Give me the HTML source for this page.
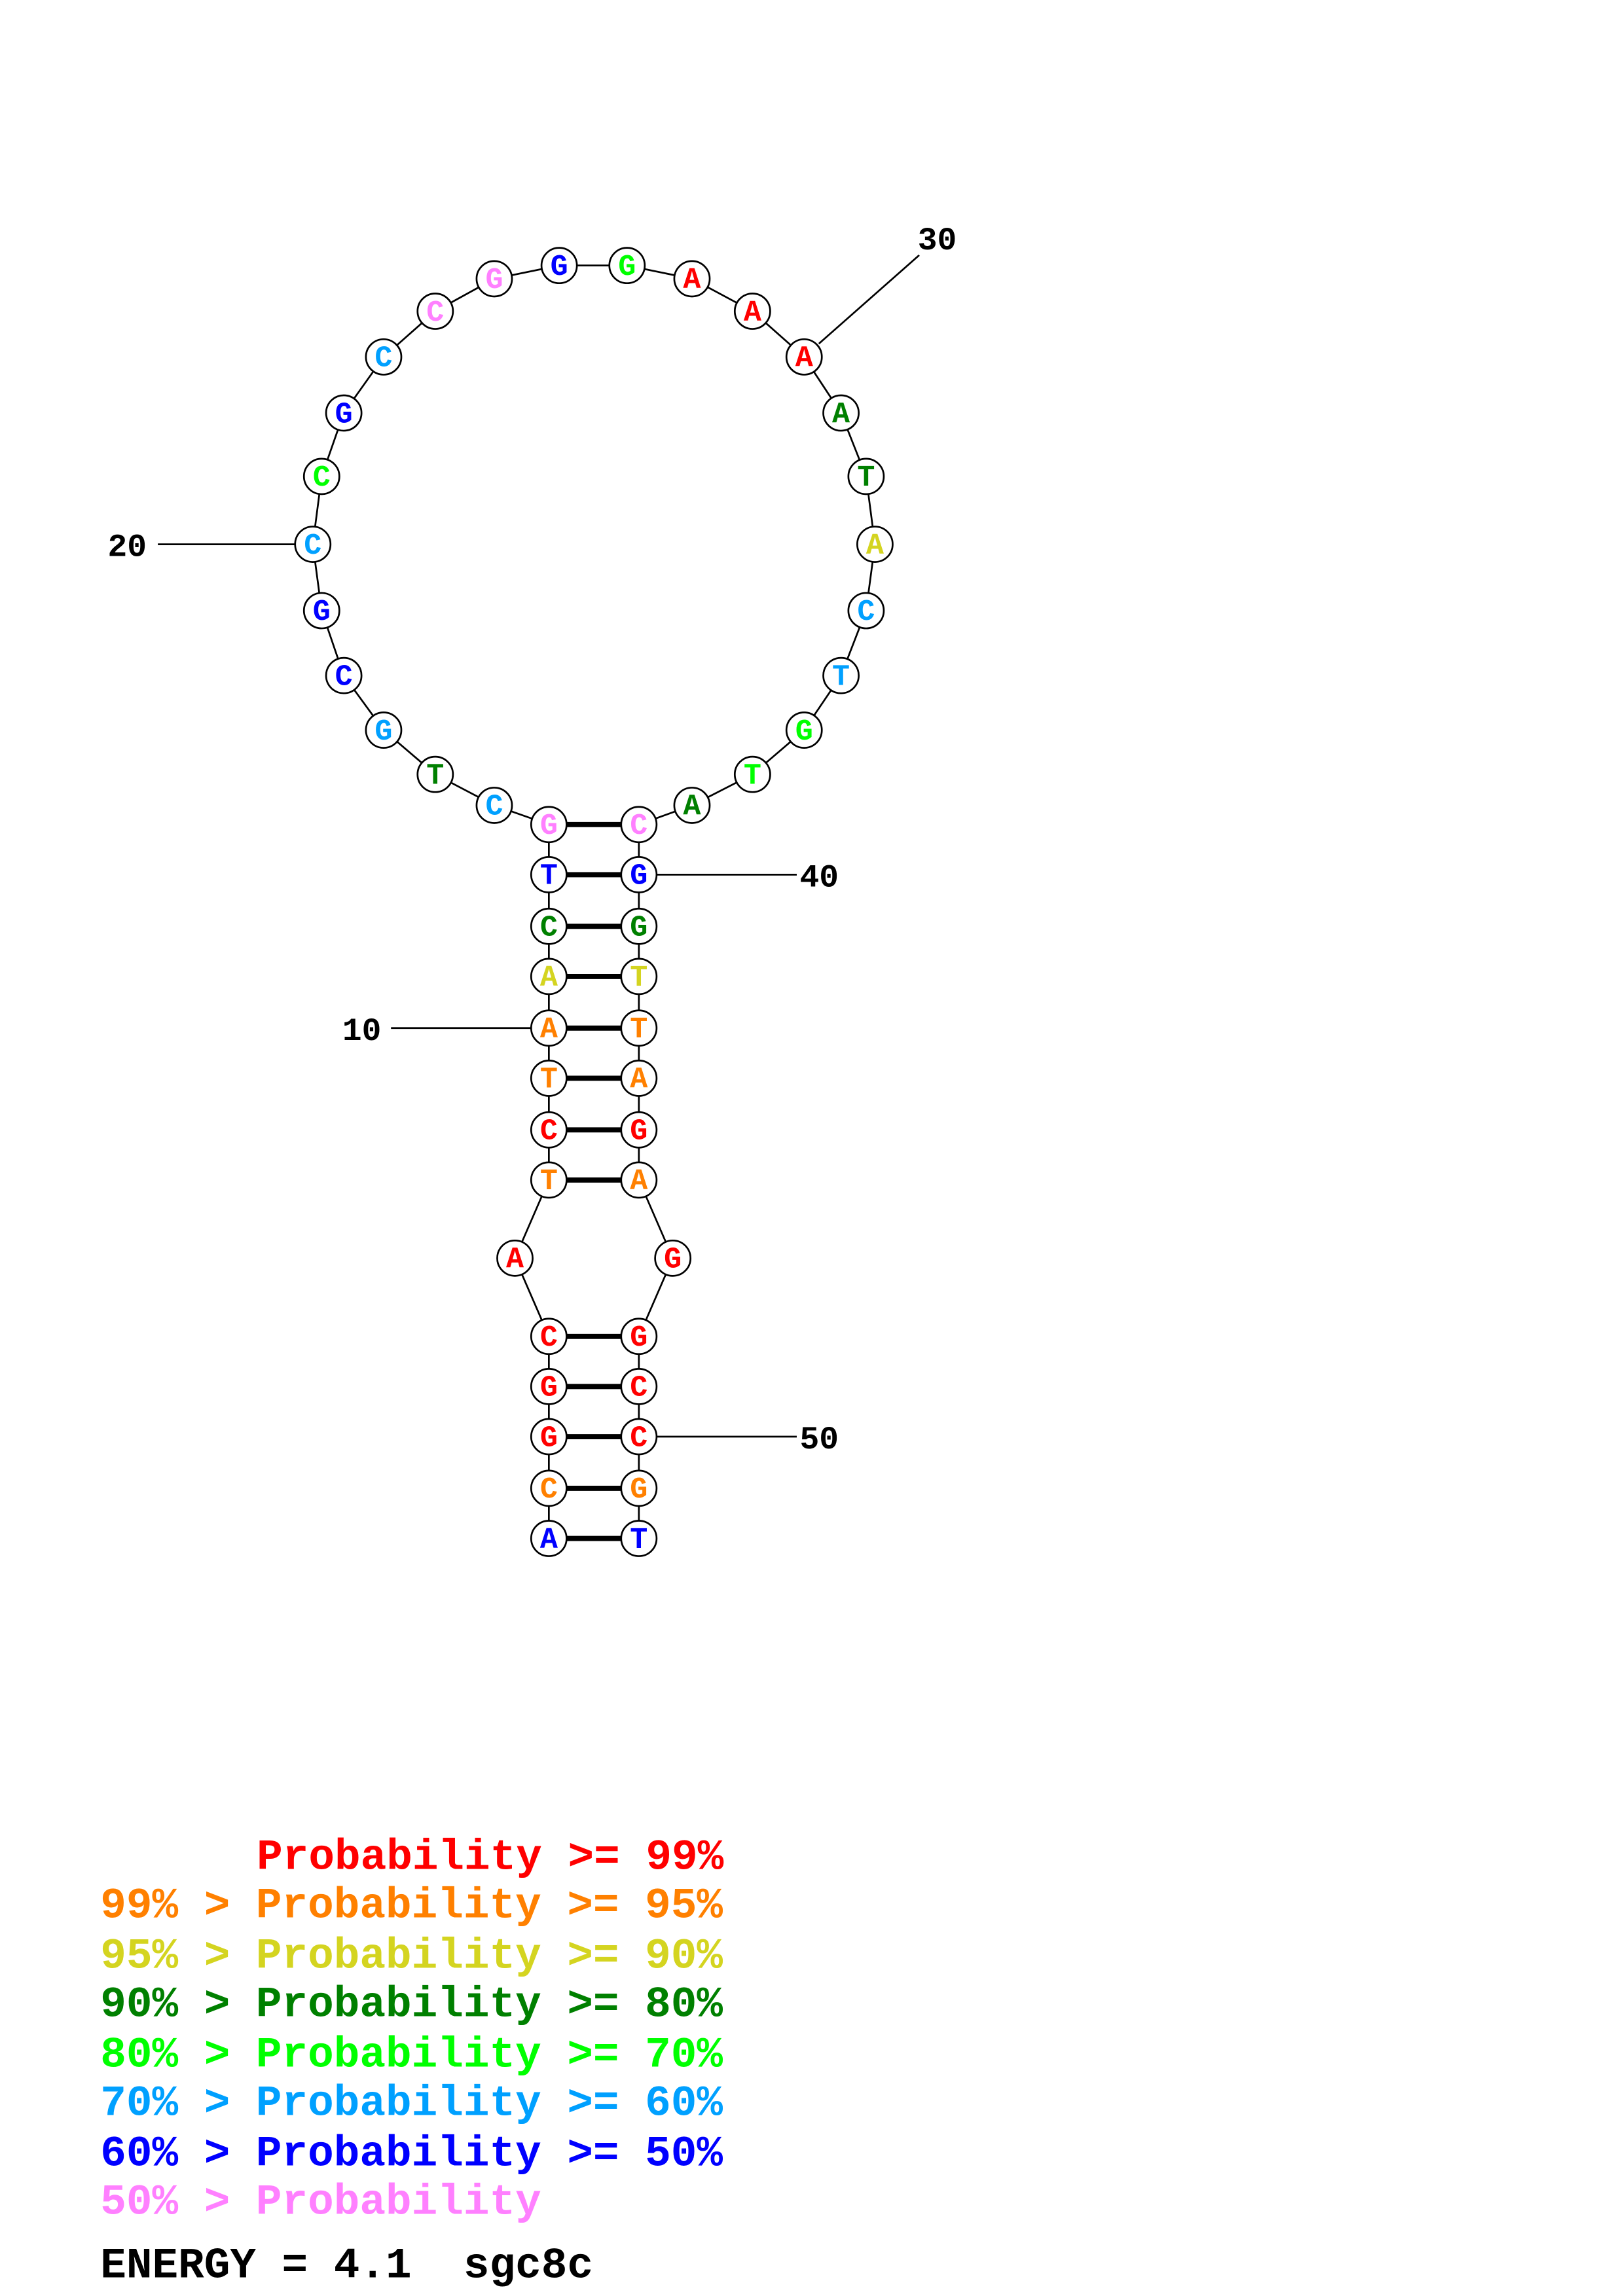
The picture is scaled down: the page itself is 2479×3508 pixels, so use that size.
<!DOCTYPE html>
<html><head><meta charset="utf-8"><style>html,body{margin:0;padding:0;background:#fff}svg{display:block}</style></head>
<body>
<svg width="2479" height="3508" viewBox="0 0 1100 1556.6" preserveAspectRatio="none" xmlns="http://www.w3.org/2000/svg">
<rect width="1100" height="1557" fill="#fff"/>
<g stroke="#000" stroke-width="1.2" fill="none">
<polyline points="372,1043 372,1009 372,974 372,940 372,906 349,853 372,800 372,766 372,731 372,697 372,662 372,628 372,593 372,559 335,546 295,525 260,495 233,458 218,414 212,369 218,323 233,280 260,242 295,211 335,189 379,180 425,180 469,189 510,211 545,242 570,280 587,323 593,369 587,414 570,458 545,495 510,525 469,546 433,559 433,593 433,628 433,662 433,697 433,731 433,766 433,800 456,853 433,906 433,940 433,974 433,1009 433,1043"/>
<line x1="265" y1="697" x2="360" y2="697"/>
<line x1="107" y1="369" x2="200" y2="369"/>
<line x1="555" y1="233" x2="623" y2="173"/>
<line x1="445" y1="593" x2="540" y2="593"/>
<line x1="445" y1="974" x2="540" y2="974"/>
</g>
<g stroke="#000" stroke-width="3.5">
<line x1="372" y1="1043" x2="433" y2="1043"/><line x1="372" y1="1009" x2="433" y2="1009"/><line x1="372" y1="974" x2="433" y2="974"/><line x1="372" y1="940" x2="433" y2="940"/><line x1="372" y1="906" x2="433" y2="906"/>
<line x1="372" y1="800" x2="433" y2="800"/><line x1="372" y1="766" x2="433" y2="766"/><line x1="372" y1="731" x2="433" y2="731"/><line x1="372" y1="697" x2="433" y2="697"/><line x1="372" y1="662" x2="433" y2="662"/><line x1="372" y1="628" x2="433" y2="628"/><line x1="372" y1="593" x2="433" y2="593"/><line x1="372" y1="559" x2="433" y2="559"/>
</g>
<g stroke="#000" stroke-width="1.2" fill="#fff">
<circle cx="372" cy="1043" r="12"/><circle cx="372" cy="1009" r="12"/><circle cx="372" cy="974" r="12"/><circle cx="372" cy="940" r="12"/><circle cx="372" cy="906" r="12"/><circle cx="349" cy="853" r="12"/><circle cx="372" cy="800" r="12"/><circle cx="372" cy="766" r="12"/><circle cx="372" cy="731" r="12"/><circle cx="372" cy="697" r="12"/><circle cx="372" cy="662" r="12"/><circle cx="372" cy="628" r="12"/><circle cx="372" cy="593" r="12"/><circle cx="372" cy="559" r="12"/>
<circle cx="335" cy="546" r="12"/><circle cx="295" cy="525" r="12"/><circle cx="260" cy="495" r="12"/><circle cx="233" cy="458" r="12"/><circle cx="218" cy="414" r="12"/><circle cx="212" cy="369" r="12"/><circle cx="218" cy="323" r="12"/><circle cx="233" cy="280" r="12"/><circle cx="260" cy="242" r="12"/><circle cx="295" cy="211" r="12"/><circle cx="335" cy="189" r="12"/><circle cx="379" cy="180" r="12"/><circle cx="425" cy="180" r="12"/><circle cx="469" cy="189" r="12"/><circle cx="510" cy="211" r="12"/><circle cx="545" cy="242" r="12"/><circle cx="570" cy="280" r="12"/><circle cx="587" cy="323" r="12"/><circle cx="593" cy="369" r="12"/><circle cx="587" cy="414" r="12"/><circle cx="570" cy="458" r="12"/><circle cx="545" cy="495" r="12"/><circle cx="510" cy="525" r="12"/><circle cx="469" cy="546" r="12"/>
<circle cx="433" cy="559" r="12"/><circle cx="433" cy="593" r="12"/><circle cx="433" cy="628" r="12"/><circle cx="433" cy="662" r="12"/><circle cx="433" cy="697" r="12"/><circle cx="433" cy="731" r="12"/><circle cx="433" cy="766" r="12"/><circle cx="433" cy="800" r="12"/><circle cx="456" cy="853" r="12"/><circle cx="433" cy="906" r="12"/><circle cx="433" cy="940" r="12"/><circle cx="433" cy="974" r="12"/><circle cx="433" cy="1009" r="12"/><circle cx="433" cy="1043" r="12"/>
</g>
<g font-family="Liberation Mono, monospace" font-weight="bold" font-size="20" text-anchor="middle" dominant-baseline="central">
<text x="372" y="1044" fill="#0000ff">A</text><text x="372" y="1010" fill="#ff8000">C</text><text x="372" y="975" fill="#ff0000">G</text><text x="372" y="941" fill="#ff0000">G</text><text x="372" y="907" fill="#ff0000">C</text><text x="349" y="854" fill="#ff0000">A</text><text x="372" y="801" fill="#ff8000">T</text><text x="372" y="767" fill="#ff0000">C</text><text x="372" y="732" fill="#ff8000">T</text><text x="372" y="698" fill="#ff8000">A</text><text x="372" y="663" fill="#d4d420">A</text><text x="372" y="629" fill="#008000">C</text><text x="372" y="594" fill="#0000ff">T</text><text x="372" y="560" fill="#ff80ff">G</text>
<text x="335" y="547" fill="#00a0ff">C</text><text x="295" y="526" fill="#008000">T</text><text x="260" y="496" fill="#00a0ff">G</text><text x="233" y="459" fill="#0000ff">C</text><text x="218" y="415" fill="#0000ff">G</text><text x="212" y="370" fill="#00a0ff">C</text><text x="218" y="324" fill="#00ff00">C</text><text x="233" y="281" fill="#0000ff">G</text><text x="260" y="243" fill="#00a0ff">C</text><text x="295" y="212" fill="#ff80ff">C</text><text x="335" y="190" fill="#ff80ff">G</text><text x="379" y="181" fill="#0000ff">G</text><text x="425" y="181" fill="#00ff00">G</text><text x="469" y="190" fill="#ff0000">A</text><text x="510" y="212" fill="#ff0000">A</text><text x="545" y="243" fill="#ff0000">A</text><text x="570" y="281" fill="#008000">A</text><text x="587" y="324" fill="#008000">T</text><text x="593" y="370" fill="#d4d420">A</text><text x="587" y="415" fill="#00a0ff">C</text><text x="570" y="459" fill="#00a0ff">T</text><text x="545" y="496" fill="#00ff00">G</text><text x="510" y="526" fill="#00ff00">T</text><text x="469" y="547" fill="#008000">A</text>
<text x="433" y="560" fill="#ff80ff">C</text><text x="433" y="594" fill="#0000ff">G</text><text x="433" y="629" fill="#008000">G</text><text x="433" y="663" fill="#d4d420">T</text><text x="433" y="698" fill="#ff8000">T</text><text x="433" y="732" fill="#ff8000">A</text><text x="433" y="767" fill="#ff0000">G</text><text x="433" y="801" fill="#ff8000">A</text><text x="456" y="854" fill="#ff0000">G</text><text x="433" y="907" fill="#ff0000">G</text><text x="433" y="941" fill="#ff0000">C</text><text x="433" y="975" fill="#ff0000">C</text><text x="433" y="1010" fill="#ff8000">G</text><text x="433" y="1044" fill="#0000ff">T</text>
</g>
<g font-family="Liberation Mono, monospace" font-weight="bold" font-size="22" fill="#000">
<text x="232" y="705">10</text><text x="73" y="377">20</text><text x="622" y="169">30</text><text x="542" y="601">40</text><text x="542" y="982">50</text>
</g>
<g font-family="Liberation Mono, monospace" font-weight="bold" font-size="29.3">
<text x="174" y="1267" fill="#ff0000">Probability &gt;= 99%</text>
<text x="68" y="1300" fill="#ff8000">99% &gt; Probability &gt;= 95%</text>
<text x="68" y="1334" fill="#d4d420">95% &gt; Probability &gt;= 90%</text>
<text x="68" y="1367" fill="#008000">90% &gt; Probability &gt;= 80%</text>
<text x="68" y="1401" fill="#00ff00">80% &gt; Probability &gt;= 70%</text>
<text x="68" y="1434" fill="#00a0ff">70% &gt; Probability &gt;= 60%</text>
<text x="68" y="1468" fill="#0000ff">60% &gt; Probability &gt;= 50%</text>
<text x="68" y="1501" fill="#ff80ff">50% &gt; Probability</text>
<text x="68" y="1544" fill="#000" font-size="29.3">ENERGY = 4.1&#160; sgc8c</text>
</g>
</svg>
</body></html>
